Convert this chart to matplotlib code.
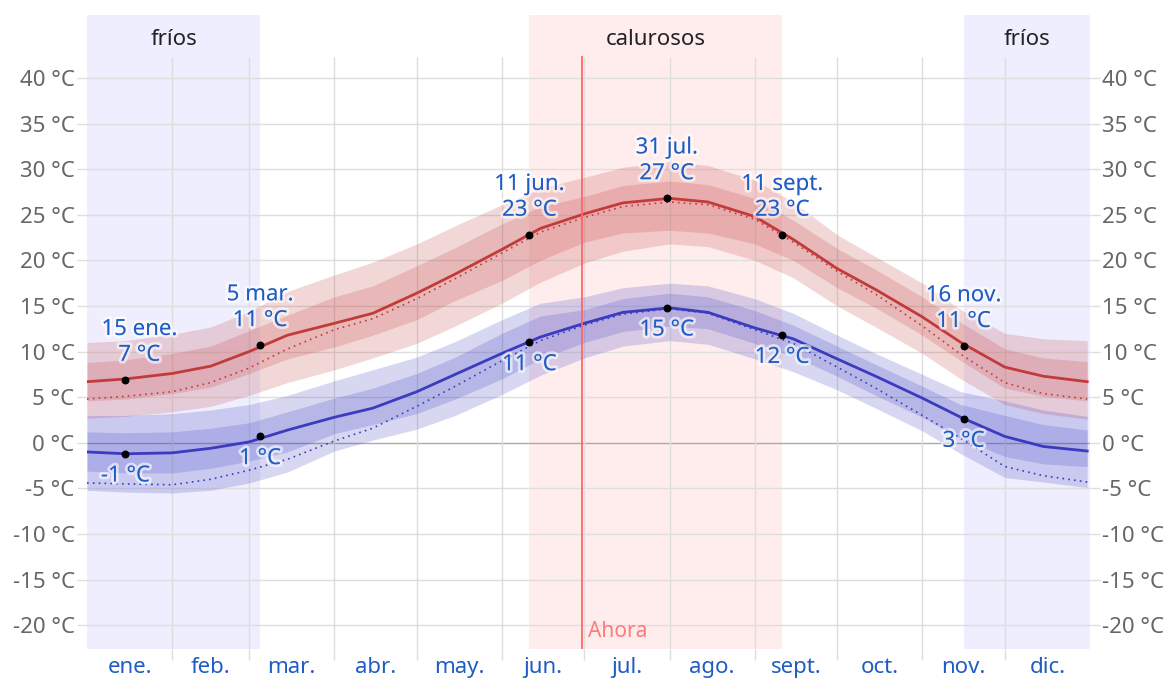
import matplotlib
matplotlib.use("Agg")
import matplotlib.pyplot as plt
import matplotlib.patheffects as pe
import numpy as np

plt.rcParams['font.family'] = ['Noto Sans', 'DejaVu Sans']

# day of year (0 = 1 Jan) for the sampled points
days = [0, 14, 31, 45, 59, 73, 90, 104, 120, 134, 151, 165, 181,
        195, 212, 226, 243, 257, 273, 287, 304, 318, 334, 348, 364]

# average high / low and their percentile bands (°C)
hi = [6.7, 7.0, 7.6, 8.4, 10.0, 11.8, 13.1, 14.2, 16.4, 18.5, 21.2, 23.5, 25.1,
      26.3, 26.8, 26.4, 24.8, 22.3, 19.1, 16.8, 13.8, 11.0, 8.3, 7.3, 6.7]
hi_p90 = [11.0, 11.2, 11.9, 12.7, 14.4, 16.6, 18.4, 19.8, 21.8, 23.8, 26.1, 27.9, 29.1,
          30.2, 30.8, 30.4, 28.8, 26.4, 22.8, 20.4, 17.5, 14.6, 12.0, 11.4, 11.2]
hi_p75 = [8.8, 9.1, 9.8, 10.6, 12.3, 14.0, 16.0, 17.2, 19.4, 21.4, 24.0, 25.9, 27.0,
          28.2, 28.7, 28.3, 26.8, 24.4, 21.3, 19.0, 16.0, 13.2, 10.3, 9.3, 8.9]
hi_p25 = [4.6, 4.8, 5.4, 6.1, 7.6, 9.2, 10.5, 11.8, 13.5, 15.6, 17.8, 20.0, 22.0,
          23.0, 23.3, 23.0, 21.8, 20.0, 17.0, 14.8, 11.8, 9.0, 6.0, 5.1, 4.6]
hi_p10 = [2.7, 2.9, 3.4, 4.0, 5.2, 6.6, 8.0, 9.3, 10.9, 12.8, 15.3, 17.6, 19.7,
          21.0, 21.8, 21.5, 20.0, 18.1, 15.0, 12.7, 9.8, 7.0, 4.2, 3.2, 2.6]
hi_feel = [4.8, 5.1, 5.6, 6.6, 8.2, 10.3, 12.4, 13.6, 15.8, 18.0, 20.8, 23.1, 24.7,
           25.9, 26.4, 26.1, 24.5, 22.0, 18.8, 16.3, 12.8, 9.7, 6.6, 5.4, 4.8]

lo = [-1.0, -1.2, -1.1, -0.6, 0.1, 1.4, 2.8, 3.8, 5.6, 7.5, 9.8, 11.6, 13.1,
      14.3, 14.8, 14.3, 12.6, 11.4, 9.2, 7.3, 4.9, 2.8, 0.7, -0.4, -0.9]
lo_p90 = [3.0, 3.0, 3.2, 3.6, 4.2, 5.2, 6.8, 8.0, 9.4, 11.1, 13.5, 15.3, 16.0,
          17.0, 17.5, 17.2, 15.8, 14.2, 11.8, 9.8, 7.5, 5.6, 4.6, 3.6, 2.9]
lo_p75 = [1.2, 1.1, 1.2, 1.6, 2.2, 3.4, 4.9, 6.0, 7.6, 9.4, 12.0, 13.9, 14.6,
          15.8, 16.4, 16.0, 14.5, 12.9, 10.6, 8.6, 6.2, 4.2, 3.0, 2.0, 1.4]
lo_p25 = [-3.1, -3.3, -3.3, -2.8, -2.0, -1.0, 1.0, 2.0, 3.2, 4.8, 7.0, 9.2, 11.0,
          12.2, 12.8, 12.5, 10.9, 9.5, 7.3, 5.2, 2.8, 0.5, -1.5, -2.3, -2.6]
lo_p10 = [-5.2, -5.4, -5.5, -5.2, -4.4, -3.2, -0.9, 0.3, 1.5, 3.0, 5.3, 7.4, 9.3,
          10.6, 11.2, 10.8, 9.2, 7.8, 5.8, 3.8, 1.3, -1.2, -3.8, -4.3, -4.9]
lo_feel = [-4.4, -4.5, -4.6, -4.0, -3.0, -1.8, 0.2, 1.6, 4.0, 6.2, 9.0, 11.2, 12.9,
           14.1, 14.7, 14.2, 12.4, 10.9, 8.3, 6.0, 3.0, 0.5, -2.6, -3.6, -4.3]

# labelled points
mark_days = [14, 63, 161, 211, 253, 319]
mark_names = ['15 ene.', '5 mar.', '11 jun.', '31 jul.', '11 sept.', '16 nov.']
mark_hi = [6.9, 10.7, 22.8, 26.8, 22.8, 10.6]
mark_lo = [-1.2, 0.7, 11.0, 14.8, 11.8, 2.6]

month_starts = [0, 31, 59, 90, 120, 151, 181, 212, 243, 273, 304, 334, 365]
month_names = ['ene.', 'feb.', 'mar.', 'abr.', 'may.', 'jun.', 'jul.',
               'ago.', 'sept.', 'oct.', 'nov.', 'dic.']

cold_seasons = [(0, 63), (319, 365)]
hot_season = (161, 253)
today = 180

RED = '#c23b3b'
BLUE = '#3b3bbf'
TXT_BLUE = '#1f5cc4'
GRID = '#dedede'

fig = plt.figure(figsize=(11.71, 6.80), dpi=100)
ax = fig.add_axes([0.0743, 0.0456, 0.8565, 0.9324])
ax.set_xlim(0, 365)
ax.set_ylim(-22.6, 46.9)

# seasons
for a, b in cold_seasons:
    ax.axvspan(a, b, color='#eeeefe', zorder=0, lw=0)
ax.axvspan(*hot_season, color='#ffeded', zorder=0, lw=0)
ax.text(np.mean(cold_seasons[0]), 44.2, 'fríos', ha='center', va='center', fontsize=16, color='#222222')
ax.text(np.mean(cold_seasons[1]), 44.2, 'fríos', ha='center', va='center', fontsize=16, color='#222222')
ax.text(np.mean(hot_season), 44.2, 'calurosos', ha='center', va='center', fontsize=16, color='#222222')

# grid
yt = list(range(-20, 45, 5))
for y in yt:
    ax.axhline(y, color='#aaaaaa' if y == 0 else GRID, lw=1, zorder=1)
ax.vlines(month_starts[1:-1], -22.6, 42.3, color=GRID, lw=1, zorder=1)

# bands and lines
ax.fill_between(days, hi_p10, hi_p90, color=RED, alpha=0.2, lw=0, zorder=2)
ax.fill_between(days, hi_p25, hi_p75, color=RED, alpha=0.2, lw=0, zorder=2)
ax.fill_between(days, lo_p10, lo_p90, color=BLUE, alpha=0.2, lw=0, zorder=2)
ax.fill_between(days, lo_p25, lo_p75, color=BLUE, alpha=0.2, lw=0, zorder=2)
ax.plot(days, hi_feel, color=RED, lw=1.2, ls=(0, (1, 2.5)), zorder=3)
ax.plot(days, lo_feel, color=BLUE, lw=1.2, ls=(0, (1, 2.5)), zorder=3)
ax.plot(days, hi, color=RED, lw=2, zorder=4)
ax.plot(days, lo, color=BLUE, lw=2, zorder=4)

# now
ax.axvline(today, ymax=(42.3 + 22.6) / 69.5, color='#ff6666', lw=1.3, zorder=5)
ax.text(today + 2.5, -20.7, 'Ahora', color='#ff7a7a', fontsize=15, va='center', ha='left', zorder=5)

# labelled points
halo = [pe.withStroke(linewidth=4, foreground=(1, 1, 1, 0.6))]
ax.scatter(mark_days, mark_hi, s=22, color='black', zorder=6)
ax.scatter(mark_days, mark_lo, s=22, color='black', zorder=6)
for i, (d, name, th, tl) in enumerate(zip(mark_days, mark_names, mark_hi, mark_lo)):
    dx = 10 if i == 0 else 0
    ax.annotate(f'{name}\n{round(th)} °C', (d, th), xytext=(dx, 27), textcoords='offset points',
                ha='center', va='center', fontsize=16, color=TXT_BLUE, linespacing=1.3,
                path_effects=halo, zorder=7)
    ax.annotate(f'{round(tl)} °C', (d, tl), xytext=(0, -16), textcoords='offset points',
                ha='center', va='center', fontsize=16, color=TXT_BLUE,
                path_effects=halo, zorder=7)

# axes / ticks
for s in ax.spines.values():
    s.set_visible(False)
ax.set_yticks(yt[:-1] if yt[-1] > 40 else yt)
ax.set_yticklabels([f'{y} °C' for y in ax.get_yticks().astype(int)])
ax.tick_params(axis='y', which='major', length=7, color=GRID, width=1, pad=2,
               labelsize=16, labelcolor='#666666', left=True, right=True,
               labelleft=True, labelright=True)
mids = [(a + b) / 2 for a, b in zip(month_starts[:-1], month_starts[1:])]
ax.set_xticks(mids)
ax.set_xticklabels(month_names)
ax.set_xticks(month_starts[1:-1], minor=True)
ax.tick_params(axis='x', which='major', length=0, pad=6, labelsize=16, labelcolor=TXT_BLUE)
ax.tick_params(axis='x', which='minor', length=8, color=GRID, width=1)

fig.savefig('out.png', dpi=100)
